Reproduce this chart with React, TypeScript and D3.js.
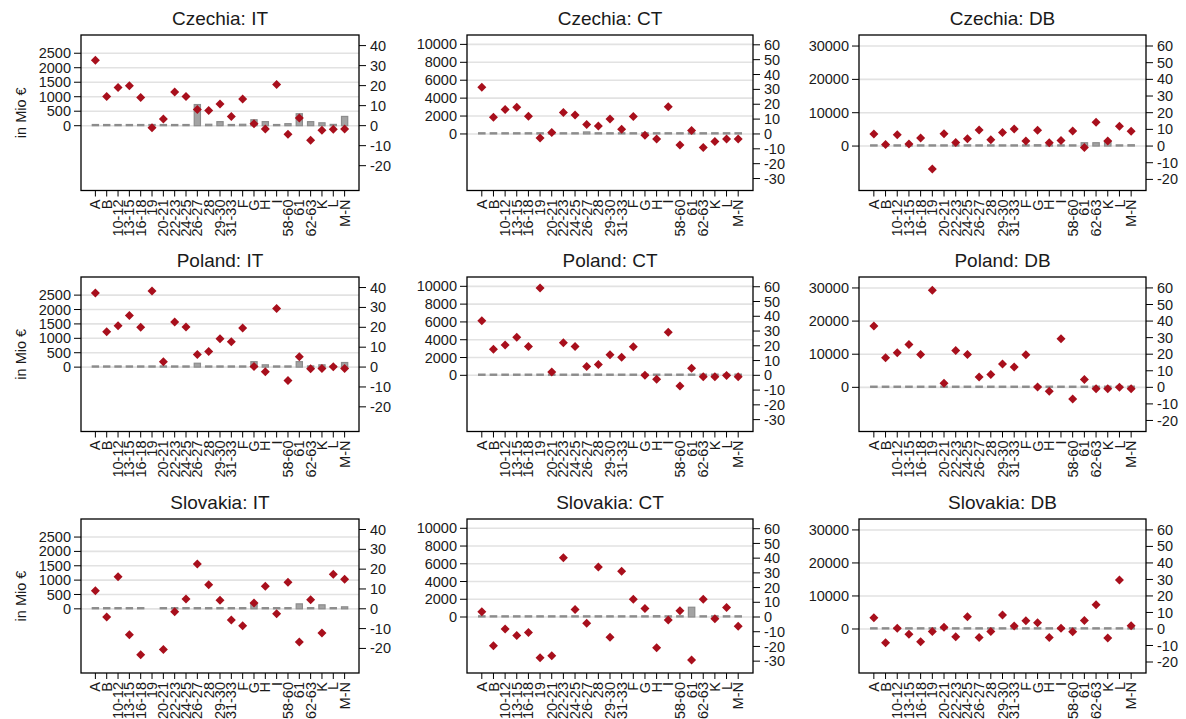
import React from "react";
import * as d3 from "d3";

const categories = ["A","B","10-12","13-15","16-18","19","20-21","22-23","24-25","26-27","28","29-30","31-33","F","G","H","I","58-60","61","62-63","K","L","M-N"];
const countries = ["Czechia", "Poland", "Slovakia"];
const measures = ["IT", "CT", "DB"];

// percentage change (right axis, red diamonds)
const czechiaITPct = [32.7,14.6,19.1,19.9,14.1,-1.0,3.3,16.8,14.6,8.1,7.6,10.8,4.6,13.3,1.0,-1.7,20.6,-4.3,3.8,-7.3,-2.3,-1.8,-1.7];
const czechiaCTPct = [31.5,11.3,16.5,17.9,12.0,-2.7,0.9,14.5,12.7,6.3,5.4,10.0,3.2,11.8,-0.9,-3.4,18.3,-7.5,2.3,-9.1,-5.0,-3.4,-3.4];
const czechiaDBPct = [7.2,1.0,6.8,1.2,4.8,-13.8,7.4,2.2,4.4,9.6,3.8,8.2,10.2,3.0,9.4,2.0,3.4,9.0,-0.8,14.2,3.0,11.8,8.8];
const polandITPct = [37.2,17.8,20.8,26.0,20.0,38.2,2.7,22.7,20.2,6.3,7.8,14.3,12.7,19.7,0.3,-2.3,29.5,-6.8,5.2,-0.8,-0.7,0.2,-0.7];
const polandCTPct = [37.0,17.6,20.5,25.8,19.6,59.1,2.3,22.1,19.6,5.9,7.3,13.9,12.3,19.4,0.0,-2.7,29.2,-7.3,4.8,-0.9,-0.9,-0.2,-0.9];
const polandDBPct = [37.0,17.8,20.8,25.9,19.8,58.6,2.4,22.2,19.8,6.3,7.7,14.1,12.3,19.6,0.2,-2.4,29.3,-7.1,4.8,-0.8,-0.8,0.0,-0.8];
const slovakiaITPct = [9.1,-4.2,16.2,-13.1,-23.2,null,-20.5,-1.5,4.9,22.6,12.1,4.3,-5.7,-8.5,2.9,11.4,-2.5,13.4,-16.7,4.6,-12.2,17.4,14.9];
const slovakiaCTPct = [3.5,-19.5,-8.1,-12.5,-10.6,-27.7,-26.3,40.2,5.1,-4.3,34.0,-13.8,31.1,12.1,5.8,-20.9,-2.0,4.2,-29.3,12.1,-1.1,6.4,-6.3];
const slovakiaDBPct = [6.8,-8.3,0.4,-3.2,-7.7,-1.5,1.0,-4.7,7.4,-5.1,-1.5,8.4,1.8,5.0,3.8,-5.1,0.4,-1.7,5.2,14.7,-5.5,29.6,2.0];

// levels in Mio € (left axis, gray bars)
const czechiaITLvl = [20,20,20,20,30,20,30,30,40,730,50,140,20,50,206,140,10,70,413,140,100,45,320];
const czechiaCTLvl = [40,40,40,40,40,40,40,40,40,225,40,80,40,40,80,60,20,40,80,40,40,40,60];
const czechiaDBLvl = [150,150,150,150,150,150,150,150,150,250,150,200,150,150,400,200,100,200,1000,1000,1400,150,400];
const polandITLvl = [20,20,20,20,20,20,20,20,20,135,20,30,20,20,190,80,20,20,190,20,80,30,160];
const polandCTLvl = [40,40,40,40,40,40,40,40,40,150,40,40,40,40,60,40,40,40,100,40,40,40,40];
const polandDBLvl = [150,150,150,150,150,150,150,150,150,200,150,150,150,150,150,150,150,150,200,150,150,150,150];
const slovakiaITLvl = [15,15,15,15,15,null,15,15,15,15,15,35,15,15,196,35,15,15,173,35,140,10,70];
const slovakiaCTLvl = [40,40,40,40,40,40,40,40,40,40,40,40,40,40,40,150,40,40,1100,40,40,40,40];
const slovakiaDBLvl = [150,150,150,150,150,150,150,150,150,150,150,150,150,150,150,150,150,150,150,150,150,150,150];

const leftTicksIT = [0, 500, 1000, 1500, 2000, 2500];
const leftTicksCT = [0, 2000, 4000, 6000, 8000, 10000];
const leftTicksDB = [0, 10000, 20000, 30000];
const rightTicksIT = [-20, -10, 0, 10, 20, 30, 40];
const rightTicksCT = [-30, -20, -10, 0, 10, 20, 30, 40, 50, 60];
const rightTicksDB = [-20, -10, 0, 10, 20, 30, 40, 50, 60];

const pctData: Record<string, (number | null)[]> = {
  "Czechia-IT": czechiaITPct, "Czechia-CT": czechiaCTPct, "Czechia-DB": czechiaDBPct,
  "Poland-IT": polandITPct, "Poland-CT": polandCTPct, "Poland-DB": polandDBPct,
  "Slovakia-IT": slovakiaITPct, "Slovakia-CT": slovakiaCTPct, "Slovakia-DB": slovakiaDBPct,
};
const lvlData: Record<string, (number | null)[]> = {
  "Czechia-IT": czechiaITLvl, "Czechia-CT": czechiaCTLvl, "Czechia-DB": czechiaDBLvl,
  "Poland-IT": polandITLvl, "Poland-CT": polandCTLvl, "Poland-DB": polandDBLvl,
  "Slovakia-IT": slovakiaITLvl, "Slovakia-CT": slovakiaCTLvl, "Slovakia-DB": slovakiaDBLvl,
};

const leftTicks = [leftTicksIT, leftTicksCT, leftTicksDB];
const rightTicks = [rightTicksIT, rightTicksCT, rightTicksDB];
const leftDomains: [number, number][] = [[-2235, 3129], [-6313, 11048], [-13330, 33310]];
const rightDomains: [number, number][] = [[-32.4, 45.3], [-38.05, 66.6], [-26.66, 66.6]];

const colX = [[81, 359], [467, 753], [859, 1146]];
const rowY = [[35, 190.5], [277, 431.5], [519, 673]];

const FONT = "'Liberation Sans', Arial, Helvetica, sans-serif";
const TXT = "#1a1a1a";
const RED = "#a80f1c";

function Panel({ r, c }: { r: number; c: number }) {
  const country = countries[r];
  const measure = measures[c];
  const key = `${country}-${measure}`;
  const [x0, x1] = colX[c];
  const [y0, y1] = rowY[r];
  const x = d3.scalePoint<string>().domain(categories).range([x0, x1]).padding(1.27);
  const yL = d3.scaleLinear().domain(leftDomains[c]).range([y1, y0]);
  const yR = d3.scaleLinear().domain(rightDomains[c]).range([y1, y0]);
  const bw = x.step() * 0.55;
  const pct = pctData[key];
  const lvl = lvlData[key];
  const z = yL(0);
  const rD = 4.5;
  return (
    <g>
      <text x={(x0 + x1) / 2} y={y0 - 10} textAnchor="middle" fontSize={19} fill={TXT} fontFamily={FONT}>
        {`${country}: ${measure}`}
      </text>
      {leftTicks[c].map((t) => (
        <line key={"g" + t} x1={x0} x2={x1} y1={yL(t)} y2={yL(t)} stroke="#e2e2e2" strokeWidth={1.6} />
      ))}
      {lvl.map((v, i) => {
        if (v === null) return null;
        const yy = yL(v);
        const h = Math.max(Math.abs(yy - z), 1.2);
        const top = v >= 0 ? z - h : z;
        return (
          <rect key={"b" + i} x={(x(categories[i]) as number) - bw / 2} y={top} width={bw} height={h}
            fill="#a3a3a3" stroke="#8c8c8c" strokeWidth={1.2} />
        );
      })}
      {pct.map((v, i) => {
        if (v === null) return null;
        const cx = x(categories[i]) as number;
        const cy = yR(v);
        return (
          <path key={"d" + i} d={`M${cx},${cy - rD}L${cx + rD},${cy}L${cx},${cy + rD}L${cx - rD},${cy}Z`} fill={RED} />
        );
      })}
      <rect x={x0} y={y0} width={x1 - x0} height={y1 - y0} fill="none" stroke="#000" strokeWidth={1.3} />
      {leftTicks[c].map((t) => (
        <g key={"l" + t}>
          <line x1={x0 - 7} x2={x0} y1={yL(t)} y2={yL(t)} stroke="#000" strokeWidth={1} />
          <text x={x0 - 10} y={yL(t)} dy="0.35em" textAnchor="end" fontSize={14.5} fill={TXT} fontFamily={FONT}>{t}</text>
        </g>
      ))}
      {rightTicks[c].map((t) => (
        <g key={"r" + t}>
          <line x1={x1} x2={x1 + 7} y1={yR(t)} y2={yR(t)} stroke="#000" strokeWidth={1} />
          <text x={x1 + 11} y={yR(t)} dy="0.35em" textAnchor="start" fontSize={14.5} fill={TXT} fontFamily={FONT}>{t}</text>
        </g>
      ))}
      {categories.map((cat) => {
        const cx = x(cat) as number;
        return (
          <g key={"x" + cat}>
            <line x1={cx} x2={cx} y1={y1} y2={y1 + 6} stroke="#000" strokeWidth={1} />
            <text transform={`translate(${cx},${y1 + 9}) rotate(-90)`} dy="0.35em" textAnchor="end" fontSize={14.5}
              fill={TXT} fontFamily={FONT}>{cat}</text>
          </g>
        );
      })}
      {c === 0 && (
        <text transform={`translate(21,${(y0 + y1) / 2}) rotate(-90)`} dy="0.35em" textAnchor="middle" fontSize={14.5}
          fill={TXT} fontFamily={FONT}>in Mio €</text>
      )}
    </g>
  );
}

export default function App() {
  const cells: { r: number; c: number }[] = [];
  for (let r = 0; r < 3; r++) for (let c = 0; c < 3; c++) cells.push({ r, c });
  return (
    <svg width={1186} height={719} style={{ position: "absolute", left: 0, top: 0, background: "#fff" }}>
      <rect x={0} y={0} width={1186} height={719} fill="#fff" />
      {cells.map(({ r, c }) => (
        <Panel key={`${r}-${c}`} r={r} c={c} />
      ))}
    </svg>
  );
}
